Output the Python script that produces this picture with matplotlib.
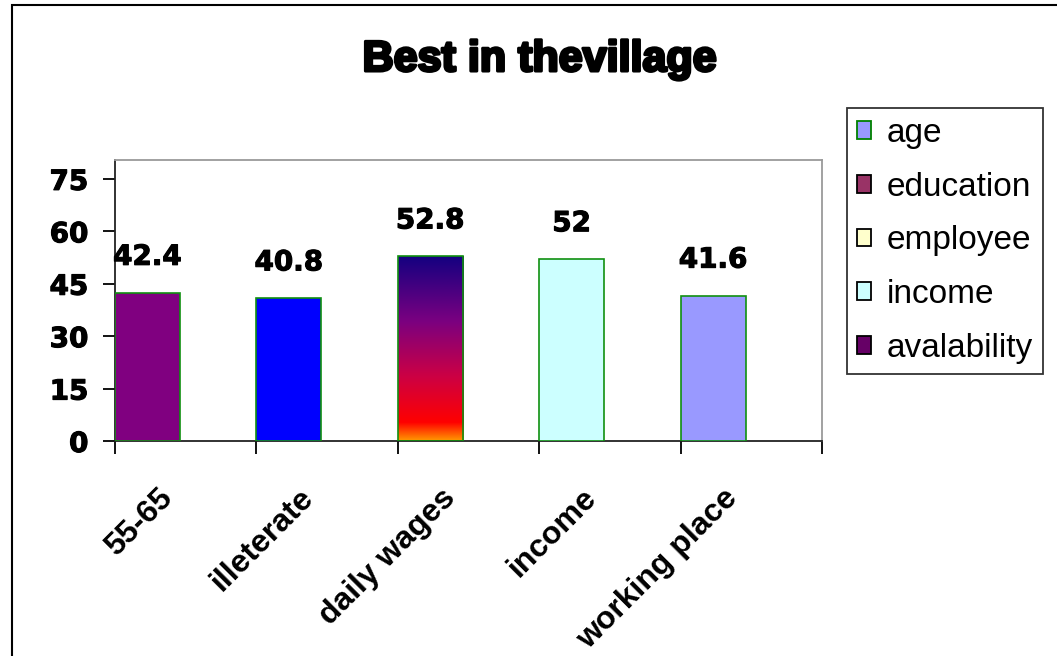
import matplotlib
matplotlib.use("Agg")
import matplotlib.pyplot as plt
import numpy as np
from matplotlib.patches import Patch, Rectangle
from matplotlib.colors import LinearSegmentedColormap
from matplotlib.transforms import ScaledTranslation
import matplotlib.patheffects as pe

# ---- data ----
title = "Best in thevillage"
categories = ["55-65", "illeterate", "daily wages", "income", "working place"]
values = [42.4, 40.8, 52.8, 52, 41.6]
value_labels = ["42.4", "40.8", "52.8", "52", "41.6"]
yticks = [0, 15, 30, 45, 60, 75]
legend_names = ["age", "education", "employee", "income", "avalability"]

# ---- styles ----
bar_colors = ["#800080", "#0000ff", None, "#ccffff", "#9999ff"]
legend_colors = ["#9999ff", "#993366", "#ffffcc", "#ccffff", "#660066"]
legend_edges = ["#008000", "#000000", "#000000", "#000000", "#000000"]
edge_green = "#109010"
grad = LinearSegmentedColormap.from_list(
    "fire", [(0.0, "#ff9900"), (0.1, "#ff0000"), (0.35, "#cc0044"),
             (0.65, "#7a0080"), (1.0, "#140080")])
heavy = [pe.withStroke(linewidth=0.8, foreground="black")]

W, H = 1057, 656
fig = plt.figure(figsize=(W / 100, H / 100), dpi=100)
fig.patch.set_facecolor("white")

ax = fig.add_axes([115 / W, 1 - 441 / H, (822 - 115) / W, (441 - 160) / H])

x = np.arange(len(categories))
bw = 0.46
bars = ax.bar(x, values, width=bw, align="edge",
              color=[c if c else "none" for c in bar_colors],
              edgecolor=edge_green, linewidth=1.2, zorder=3)

# gradient fill for the bar without a flat colour
for b, c in zip(bars, bar_colors):
    if c is None:
        g = np.linspace(0, 1, 256).reshape(-1, 1)
        im = ax.imshow(g, cmap=grad, origin="lower", aspect="auto",
                       extent=(b.get_x(), b.get_x() + b.get_width(), 0, b.get_height()),
                       zorder=2.5)
        im.set_clip_path(b)

for b, lab in zip(bars, value_labels):
    ax.annotate(lab, (b.get_x() + b.get_width() / 2, b.get_height()),
                xytext=(0, 36), textcoords="offset pixels",
                ha="center", va="center", fontsize=20, fontweight="bold",
                family="DejaVu Sans", zorder=5, path_effects=heavy,
                annotation_clip=False)

ax.set_xlim(0, len(categories))
ax.set_ylim(0, 80.4)
ax.set_yticks(yticks)
ax.set_yticklabels([str(t) for t in yticks], fontsize=20, fontweight="bold",
                   family="DejaVu Sans")
for lab in ax.get_yticklabels():
    lab.set_path_effects(heavy)
ax.tick_params(axis="y", direction="out", length=8.6, width=1.3, pad=10.5, color="black")

ax.set_xticks(np.arange(len(categories) + 1))
ax.set_xticklabels([])
ax.tick_params(axis="x", which="major", direction="out", length=9, width=1.3, color="black")
ax.set_xticks(x + bw / 2, minor=True)
ax.set_xticklabels(categories, minor=True, rotation=45, ha="right", va="top",
                   rotation_mode="anchor", fontsize=23, fontweight="bold",
                   family="Liberation Sans")
ax.tick_params(axis="x", which="minor", length=0, pad=30)
offset = ScaledTranslation(7 / 72, 0, fig.dpi_scale_trans)
for lab in ax.get_xticklabels(minor=True):
    lab.set_transform(lab.get_transform() + offset)

for s in ["left", "bottom"]:
    ax.spines[s].set_color("#222222")
    ax.spines[s].set_linewidth(1.3)
for s in ["top", "right"]:
    ax.spines[s].set_color("#9a9a9a")
    ax.spines[s].set_linewidth(1.3)

fig.text(539 / W, 1 - 60 / H, title, ha="center", va="center", fontsize=31,
         fontweight="bold", family="Liberation Sans",
         path_effects=[pe.withStroke(linewidth=2.2, foreground="black")])

handles = [Patch(facecolor=fc, edgecolor=ec, linewidth=1.3)
           for fc, ec in zip(legend_colors, legend_edges)]
leg = fig.legend(handles, legend_names, loc="upper left",
                 bbox_to_anchor=(847 / W, 1 - 108 / H),
                 prop={"family": "Liberation Sans", "size": 24},
                 frameon=True, fancybox=False, edgecolor="black",
                 handlelength=0.43, handleheight=0.43, handletextpad=0.45,
                 labelspacing=0.68, borderpad=0.3, borderaxespad=0)
leg.get_frame().set_linewidth(1.3)

fig.patches.append(Rectangle((12 / W, -0.01), 1.0, 1 - 5 / H + 0.01,
                             transform=fig.transFigure, fill=False,
                             edgecolor="black", linewidth=1.5))

fig.savefig("out.png", dpi=100)
